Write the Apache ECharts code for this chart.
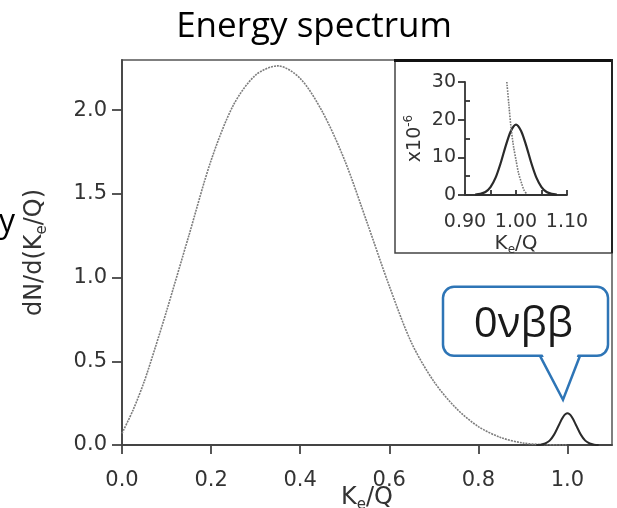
<!DOCTYPE html>
<html><head><meta charset="utf-8">
<script src="https://cdn.jsdelivr.net/npm/echarts@6/dist/echarts.min.js"></script>
<style>html,body{margin:0;padding:0;background:#fff}#c{width:617px;height:508px}</style>
</head><body><div id="c"></div>
<script>
// ---- data ----
const xTickValues = [0, 0.2, 0.4, 0.6, 0.8, 1.0];
const yTickValues = [0, 0.5, 1.0, 1.5, 2.0];
const k2nu = [0, 0.025, 0.05, 0.075, 0.10, 0.15, 0.20, 0.25, 0.30, 0.35, 0.40, 0.45, 0.50, 0.55, 0.60, 0.65, 0.70, 0.75, 0.80, 0.85, 0.90, 0.95, 1.00];
const v2nu = [0.07, 0.21, 0.38, 0.585, 0.80, 1.25, 1.70, 2.03, 2.21, 2.265, 2.19, 1.99, 1.70, 1.33, 0.95, 0.61, 0.38, 0.22, 0.11, 0.045, 0.012, 0.002, 0.0];
const k0nu = [0.93, 0.94, 0.95, 0.96, 0.97, 0.98, 0.99, 1.00, 1.01, 1.02, 1.03, 1.04, 1.05, 1.06, 1.07];
const v0nu = [0.000, 0.002, 0.009, 0.026, 0.062, 0.115, 0.167, 0.189, 0.167, 0.115, 0.062, 0.026, 0.009, 0.002, 0.000];

const insetXTicks = [0.90, 0.95, 1.00, 1.05, 1.10];
const insetXLabels = [0.90, 1.00, 1.10];
const insetYTicks = [0, 10, 20, 30];
const insetYMinorTicks = [5, 15, 25];
const kIn0nu = [0.92, 0.93, 0.94, 0.95, 0.96, 0.97, 0.98, 0.99, 1.00, 1.01, 1.02, 1.03, 1.04, 1.05, 1.06, 1.07, 1.08];
const vIn0nu = [0.1, 0.3, 0.8, 2.1, 4.6, 8.5, 13.1, 17.0, 18.7, 17.0, 13.1, 8.5, 4.6, 2.1, 0.8, 0.3, 0.1];
const kIn2nu = [0.982, 0.986, 0.990, 0.995, 1.000, 1.005, 1.011, 1.016, 1.022];
const vIn2nu = [30, 24, 18.2, 13, 9.3, 5.8, 3.1, 1.2, 0.2];

const zip = (a, b) => a.map((x, i) => [x, b[i]]);

const chart = echarts.init(document.getElementById('c'), null, {renderer: 'canvas'});
const axisCol = '#444';
const labCol = '#333';
const F = 'DejaVu Sans';

const option = {
  animation: false,
  backgroundColor: '#fff',
  grid: [
    {left: 122, top: 60, right: 5, bottom: 63, show: true, borderColor: '#555', borderWidth: 1.5,
      backgroundColor: 'transparent', outerBoundsMode: 'none', containLabel: false},
    {left: 465, top: 82, width: 102, height: 113, outerBoundsMode: 'none', containLabel: false}
  ],
  xAxis: [
    {
      gridIndex: 0, type: 'value', min: 0, max: 1.1,
      axisLine: {lineStyle: {color: axisCol, width: 1.8}},
      axisTick: {length: 9, customValues: xTickValues, lineStyle: {color: axisCol, width: 1.8}},
      axisLabel: {customValues: xTickValues, formatter: v => v.toFixed(1), fontSize: 21, color: labCol, margin: 25, fontFamily: F},
      splitLine: {show: false},
      name: 'K{s|e}/Q', nameLocation: 'middle', nameGap: 38, nameMoveOverlap: false,
      nameTextStyle: {fontSize: 24, color: labCol, fontFamily: F, lineHeight: 30,
        rich: {s: {fontSize: 15, fontFamily: F, color: labCol, verticalAlign: 'bottom', lineHeight: 15}}}
    },
    {
      gridIndex: 1, type: 'value', min: 0.9, max: 1.1, z: 12,
      axisLine: {onZero: false, lineStyle: {color: '#333', width: 1.8}},
      axisTick: {inside: true, length: 5, customValues: insetXTicks, lineStyle: {color: '#333', width: 1.8}},
      axisLabel: {customValues: insetXLabels, formatter: v => v.toFixed(2), fontSize: 19, color: labCol, margin: 18, fontFamily: F},
      splitLine: {show: false},
      name: 'K{s|e}/Q', nameLocation: 'middle', nameGap: 37, nameMoveOverlap: false,
      nameTextStyle: {fontSize: 20, color: labCol, fontFamily: F, lineHeight: 24,
        rich: {s: {fontSize: 12, fontFamily: F, color: labCol, verticalAlign: 'bottom', lineHeight: 12}}}
    }
  ],
  yAxis: [
    {
      gridIndex: 0, type: 'value', min: 0, max: 2.3,
      axisLine: {lineStyle: {color: axisCol, width: 1.8}},
      axisTick: {length: 10, customValues: yTickValues, lineStyle: {color: axisCol, width: 1.8}},
      axisLabel: {customValues: yTickValues, formatter: v => v.toFixed(1), fontSize: 21, color: labCol, margin: 15, fontFamily: F},
      splitLine: {show: false},
      name: 'dN/d(K{s|e}/Q)', nameLocation: 'middle', nameGap: 72, nameMoveOverlap: false,
      nameTextStyle: {fontSize: 24, color: labCol, fontFamily: F, lineHeight: 30,
        rich: {s: {fontSize: 15, fontFamily: F, color: labCol, verticalAlign: 'bottom', lineHeight: 15}}}
    },
    {
      gridIndex: 1, type: 'value', min: 0, max: 30, z: 12, position: 'left',
      axisLine: {onZero: false, lineStyle: {color: '#333', width: 1.8}},
      axisTick: {length: 7, customValues: insetYTicks, lineStyle: {color: '#333', width: 1.8}},
      axisLabel: {customValues: insetYTicks, fontSize: 19, color: labCol, margin: 9, fontFamily: F},
      splitLine: {show: false},
      name: 'x10{p|-6}', nameLocation: 'middle', nameGap: 38, nameMoveOverlap: false,
      nameTextStyle: {fontSize: 19, color: labCol, fontFamily: F, lineHeight: 24,
        rich: {p: {fontSize: 12, fontFamily: F, color: labCol, verticalAlign: 'top', lineHeight: 12}}}
    },
    {
      gridIndex: 1, type: 'value', min: 0, max: 30, z: 12, position: 'left', offset: 0,
      axisLine: {show: false},
      axisTick: {inside: true, length: 5, customValues: insetYMinorTicks, lineStyle: {color: '#333', width: 1.8}},
      axisLabel: {show: false},
      splitLine: {show: false}
    }
  ],
  series: [
    {type: 'line', xAxisIndex: 0, yAxisIndex: 0, data: zip(k2nu, v2nu), smooth: 0.3, showSymbol: false,
      lineStyle: {color: '#7d7d7d', width: 1.6, type: [2, 1]}, z: 2},
    {type: 'line', xAxisIndex: 0, yAxisIndex: 0, data: zip(k0nu, v0nu), smooth: 0.3, showSymbol: false,
      lineStyle: {color: '#2a2a2a', width: 2}, z: 3},
    {type: 'line', xAxisIndex: 1, yAxisIndex: 1, data: zip(kIn0nu, vIn0nu), smooth: 0.3, showSymbol: false,
      lineStyle: {color: '#2a2a2a', width: 2.2}, z: 14},
    {type: 'line', xAxisIndex: 1, yAxisIndex: 1, data: zip(kIn2nu, vIn2nu), smooth: 0.3, showSymbol: false,
      lineStyle: {color: '#777', width: 1.6, type: [1.6, 1.2]}, z: 14}
  ],
  graphic: [
    {id: 'title', type: 'text', x: 314, y: 27, z: 20,
      style: {text: 'Energy spectrum', font: '35px "Open Sans"', fill: '#000', align: 'center', verticalAlign: 'middle'}},
    {id: 'ycut', type: 'text', x: -1, y: 223, z: 20,
      style: {text: 'y', font: '32px "Open Sans"', fill: '#000', align: 'left', verticalAlign: 'middle'}},
    {id: 'insetBox', type: 'rect', z: 5, shape: {x: 395, y: 60, width: 217, height: 193},
      style: {fill: '#fff', stroke: '#444', lineWidth: 1.5}},
    {id: 'insetTop', type: 'line', z: 6, shape: {x1: 394, y1: 60.5, x2: 613, y2: 60.5},
      style: {stroke: '#111', lineWidth: 3}},
    {id: 'insetRight', type: 'line', z: 6, shape: {x1: 612, y1: 59, x2: 612, y2: 253},
      style: {stroke: '#222', lineWidth: 2}}
  ]
};
chart.setOption(option);

// callout anchored to the 0vbb peak
const tip = chart.convertToPixel({xAxisIndex: 0, yAxisIndex: 0}, [0.99, 0.27]);
const tx = tip[0], ty = tip[1];
const L = tx - 120, R = tx + 45, T = ty - 113, B = ty - 44, b1 = tx - 23, b2 = tx + 17;
const blue = '#2e75b6';
chart.setOption({
  graphic: option.graphic.concat([
    {id: 'calloutBox', type: 'rect', z: 20, shape: {x: L, y: T, width: R - L, height: B - T, r: 11},
      style: {fill: '#fff', stroke: blue, lineWidth: 2.5}},
    {id: 'calloutFill', type: 'polygon', z: 21, shape: {points: [[b1 + 2, B - 2.5], [b2 - 2, B - 2.5], [tx, ty - 2]]},
      style: {fill: '#fff', stroke: null}},
    {id: 'calloutPtr', type: 'polyline', z: 22, shape: {points: [[b1, B], [tx, ty], [b2, B]]},
      style: {fill: null, stroke: blue, lineWidth: 2.5, lineJoin: 'miter'}},
    {id: 'calloutText', type: 'text', z: 23, x: (L + R) / 2 - 2, y: T + 38,
      style: {text: '0νββ', font: '42px "Open Sans"', fill: '#1a1a1a', align: 'center', verticalAlign: 'middle'}}
  ])
});
</script>
</body></html>
